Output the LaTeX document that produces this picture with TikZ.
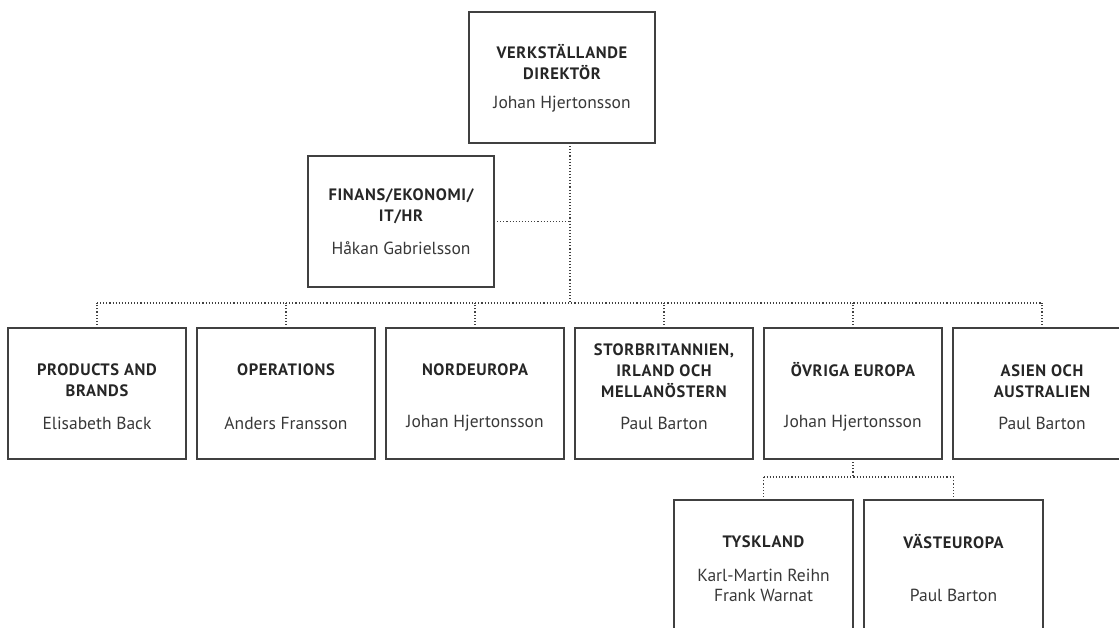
\documentclass[tikz,border=0pt]{standalone}
\usepackage{fontspec}
\setmainfont{PT Sans}
\newfontfamily\ttlfamily[LetterSpace=4]{PT Sans}
\usepackage{xcolor}
\usetikzlibrary{positioning}

\definecolor{boxline}{HTML}{404040}
\definecolor{ttltext}{HTML}{262626}
\definecolor{nmtext}{HTML}{383838}

\begin{document}
\begin{tikzpicture}[x=1pt,y=-1pt,node distance=11pt,every node/.append style={align=center},
  unit/.style={draw=boxline, line width=1.6pt, inner sep=0pt, outer sep=0pt, minimum width=178pt, minimum height=131pt},
  wide/.style={unit, minimum width=186pt},
  ttl/.style={text=ttltext, font=\ttlfamily\fontsize{16.5}{21}\selectfont\bfseries, inner sep=0pt},
  nm/.style={text=nmtext, font=\fontsize{17.5}{20}\selectfont, inner sep=0pt},
  conn/.style={draw=black!75, line width=1.1pt, dash pattern=on 1.1pt off 2pt}]
    \clip (0,0) rectangle (1119,627);
    % top level
    \node [wide] (vd) at (562,77.5) {};
    \node [ttl] (vd-t) at (562,62) {VERKSTÄLLANDE\\DIREKTÖR};
    \node [nm] (vd-n) at (562,104) {Johan Hjertonsson};
    \node [wide] (fin) at (401,221.5) {};
    \node [ttl] (fin-t) at (401,206.5) {FINANS/EKONOMI/\\IT/HR};
    \node [nm] (fin-n) at (401,248) {Håkan Gabrielsson};
    % regions
    \node [unit] (pb) at (97,393.5) {};
    \node [unit, right=of pb] (op) {};
    \node [unit, right=of op] (ne) {};
    \node [unit, right=of ne] (sb) {};
    \node [unit, right=of sb] (oe) {};
    \node [unit, right=of oe] (as) {};
    \node [ttl] (pb-t) at (pb |- 0,380) {PRODUCTS AND\\BRANDS};
    \node [ttl] (op-t) at (op |- 0,370) {OPERATIONS};
    \node [ttl] (ne-t) at (ne |- 0,370) {NORDEUROPA};
    \node [ttl] (sb-t) at (sb |- 0,371) {STORBRITANNIEN,\\IRLAND OCH\\MELLANÖSTERN};
    \node [ttl] (oe-t) at (oe |- 0,370) {ÖVRIGA EUROPA};
    \node [ttl] (as-t) at (as |- 0,381) {ASIEN OCH\\AUSTRALIEN};
    \node [nm] (pb-n) at (pb |- 0,423) {Elisabeth Back};
    \node [nm] (op-n) at (op |- 0,423) {Anders Fransson};
    \node [nm] (ne-n) at (ne |- 0,423) {Johan Hjertonsson};
    \node [nm] (sb-n) at (sb |- 0,423) {Paul Barton};
    \node [nm] (oe-n) at (oe |- 0,423) {Johan Hjertonsson};
    \node [nm] (as-n) at (as |- 0,423) {Paul Barton};
    % under övriga europa
    \node [unit, minimum width=179pt] (ty) at (763.5,565.5) {};
    \node [unit, minimum width=179pt, right=of ty] (ve) {};
    \node [ttl] (ty-t) at (ty |- 0,542) {TYSKLAND};
    \node [ttl] (ve-t) at (ve |- 0,542) {VÄSTEUROPA};
    \node [nm] (ty-n) at (ty |- 0,585) {Karl-Martin Reihn\\Frank Warnat};
    \node [nm] (ve-n) at (ve |- 0,595) {Paul Barton};
    % connectors
    \coordinate (trunk) at (570,303);
    \coordinate (subbus) at (855,477);
    \draw [conn] (vd.south -| trunk) -- (trunk);
    \draw [conn] (fin.east) -- (fin.east -| trunk);
    \draw [conn] (pb.north |- trunk) -- (as.north |- trunk);
    \foreach \n in {pb,op,ne,sb,oe,as}
        \draw [conn] (\n.north) -- (\n.north |- trunk);
    \draw [conn] (oe.south) -- (oe.south |- subbus);
    \draw [conn] (ty.north |- subbus) -- (ve.north |- subbus);
    \foreach \n in {ty,ve}
        \draw [conn] (\n.north) -- (\n.north |- subbus);
\end{tikzpicture}
\end{document}
